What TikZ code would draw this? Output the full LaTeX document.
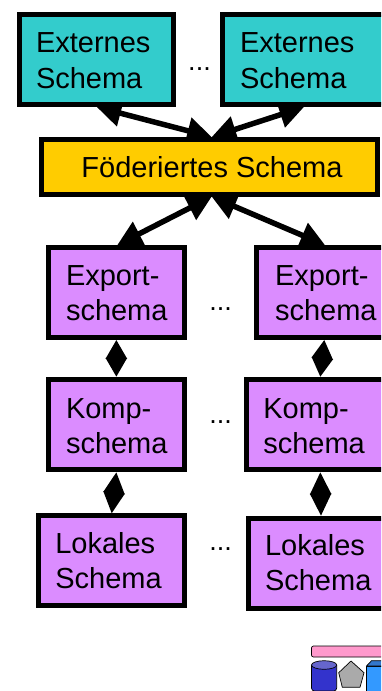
\documentclass[tikz,border=0pt]{standalone}
\usepackage{fontspec}
\setmainfont{Liberation Sans}
\usetikzlibrary{arrows.meta,backgrounds,shapes.geometric}
\definecolor{tealbox}{HTML}{33CCCC}
\definecolor{goldbox}{HTML}{FFCC00}
\definecolor{violetbox}{HTML}{DB8CFF}
\definecolor{iconpink}{HTML}{FF99CC}
\definecolor{iconcyl}{HTML}{3333CC}
\definecolor{iconcyltop}{HTML}{6666CC}
\definecolor{icongray}{HTML}{AAAAAA}
\definecolor{iconblue}{HTML}{3399FF}
\definecolor{iconbluetop}{HTML}{3377CC}
\tikzset{
  schemabox/.style={draw=black,line width=5pt,rectangle,inner sep=0pt,align=left,font=\fontsize{29}{35.6}\selectfont},
  connector/.style={line width=5.5pt,{Triangle[length=24.5pt,width=26pt]}-{Triangle[length=24.5pt,width=26pt]}},
  shortconn/.style={line width=2.5pt,{Triangle[length=#1,width=21pt]}-{Triangle[length=#1,width=21pt]}},
  dotsnode/.style={inner sep=0pt,anchor=base,font=\fontsize{27}{30}\selectfont},
  iconpart/.style={draw=black,line width=0.7pt,line join=round}
}
% name, fill, left, top, right, bottom (outer edges), first baseline, line 1, line 2
\newcommand{\schemanode}[9]{%
  \pgfmathsetmacro{\boxW}{#5-#3-5}%
  \pgfmathsetmacro{\boxX}{(#3+#5)/2}%
  \pgfmathsetmacro{\boxY}{(#4+#6)/2}%
  \pgfmathsetmacro{\boxPad}{\schemax-#3-2.5}%
  \pgfmathsetmacro{\boxUp}{#7-#4-2.5}%
  \pgfmathsetmacro{\boxDn}{#6-2.5-#7}%
  \node[schemabox,fill=#2,text width=\boxW pt,text height=\boxUp pt,text depth=\boxDn pt] (#1) at (\boxX,\boxY) {\hspace*{\boxPad pt}#8\\\hspace*{\boxPad pt}#9};%
}
\begin{document}
\begin{tikzpicture}[x=1pt,y=-1pt]
\useasboundingbox (0,0) rectangle (381,691);
\begin{scope}
\clip (0,0) rectangle (381,691);
\def\schemax{36}
\schemanode{ext1}{tealbox}{16.7}{12.3}{176}{107}{52.7}{Externes}{Schema}
\def\schemax{240}
\schemanode{ext2}{tealbox}{220}{12.3}{395}{107}{52.7}{Externes}{Schema}
\node[schemabox,fill=goldbox,minimum width=336.5pt,minimum height=54.7pt,align=center] (fed) at (209.25,166.85) {};
\node[inner sep=0pt,anchor=base,font=\fontsize{29}{35}\selectfont] (fedtext) at (212,177.7) {Föderiertes Schema};
\def\schemax{66}
\schemanode{exp1}{violetbox}{46}{245}{186.7}{340}{285}{Export-}{schema}
\def\schemax{275}
\schemanode{exp2}{violetbox}{254.3}{245}{400}{340}{285}{Export-}{schema}
\def\schemax{66}
\schemanode{komp1}{violetbox}{46}{376.7}{186.7}{472.3}{418}{Komp-}{schema}
\def\schemax{263.3}
\schemanode{komp2}{violetbox}{244.3}{376.7}{400}{472.3}{418}{Komp-}{schema}
\def\schemax{55.3}
\schemanode{lok1}{violetbox}{35.7}{513.3}{186.7}{608.3}{553.3}{Lokales}{Schema}
\def\schemax{265}
\schemanode{lok2}{violetbox}{246}{515.7}{400}{610.7}{555}{Lokales}{Schema}
\node[dotsnode] (d1) at (199.5,70.7) {...};
\node[dotsnode] (d2) at (220.5,310.7) {...};
\node[dotsnode] (d3) at (220.5,423.3) {...};
\node[dotsnode] (d4) at (220.5,550.7) {...};
% icon
\filldraw[iconpart,fill=iconpink,rounded corners=2pt] (311.5,646) rectangle (400,657);
\filldraw[iconpart,fill=iconcyl] (311.5,665) -- (311.5,688) arc[start angle=180,end angle=90,radius=3] -- (333.7,691) arc[start angle=90,end angle=0,radius=3] -- (336.7,665);
\filldraw[iconpart,fill=iconcyltop] (324.1,665) ellipse[x radius=12.6,y radius=4.3];
\filldraw[iconpart,fill=icongray] (351,661) -- (364,672.7) -- (360,687.3) -- (342.3,687.3) -- (338.7,672.7) -- cycle;
\filldraw[iconpart,fill=iconblue] (366.5,666) rectangle (400,695);
\filldraw[iconpart,fill=iconbluetop] (366.5,666) -- (371.5,660.7) -- (400,660.7) -- (400,666) -- cycle;
\end{scope}
\begin{scope}[on background layer]
\draw[connector] ([xshift=0.35pt]ext1.south) -- ([xshift=2.45pt]fed.north);
\draw[connector] ([xshift=-3.5pt]ext2.south) -- ([xshift=2.45pt]fed.north);
\draw[connector] ([xshift=2.45pt]fed.south) -- ([xshift=0.95pt]exp1.north);
\draw[connector] ([xshift=2.45pt]fed.south) -- ([xshift=-2.15pt]exp2.north);
\draw[shortconn=18.8pt] (exp1.south) -- (komp1.north);
\draw[shortconn=18.8pt] ([xshift=-2.85pt]exp2.south) -- ([xshift=-1.85pt]komp2.north);
\draw[shortconn=21pt] (komp1.south) -- ([xshift=0.5pt]lok1.north);
\draw[shortconn=22.2pt] ([xshift=-1.85pt]komp2.south) -- ([xshift=-2pt]lok2.north);
\end{scope}
\end{tikzpicture}
\end{document}
